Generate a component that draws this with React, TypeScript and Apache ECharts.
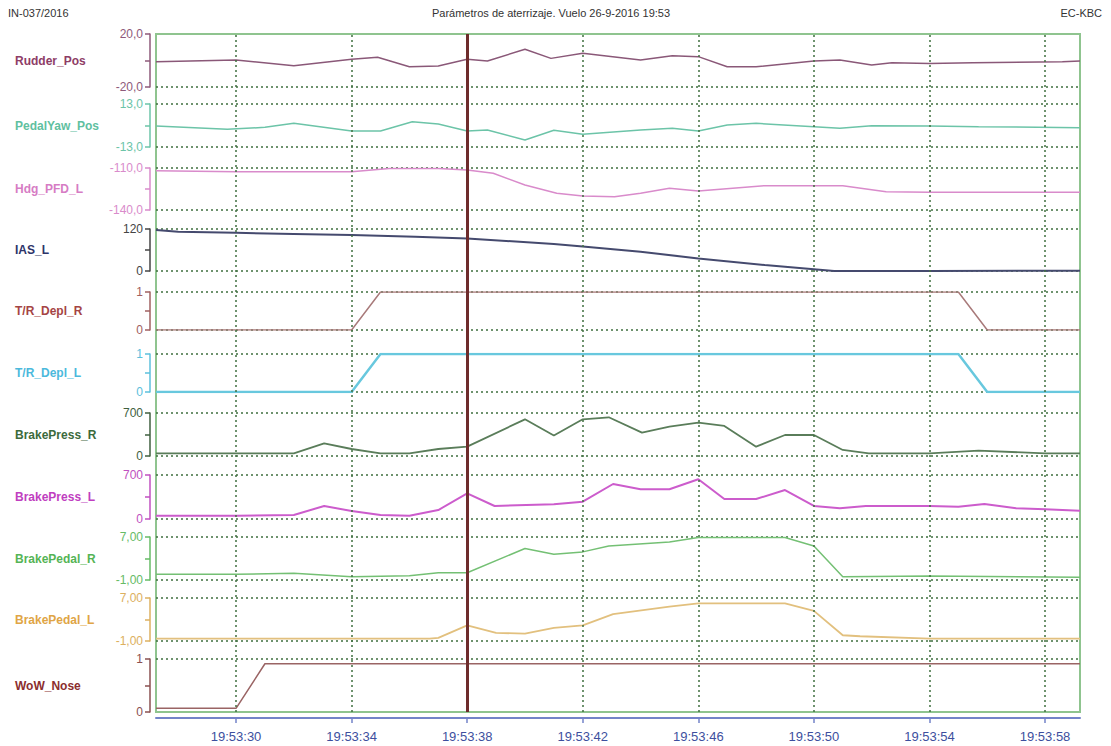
import React, { useEffect, useRef } from 'react';
import * as echarts from 'echarts';

// time in seconds after 19:53:00
const X_MIN = 27.23;
const X_MAX = 59.21;
const timeTicks = [30, 34, 38, 42, 46, 50, 54, 58];
const cursorTime = 38;

const rudderPos = [[27.23, -0.9], [30, 0.4], [32, -3.9], [34, 0.9], [34.9, 2.4], [36, -4.7], [37, -4.2], [38, 0.9], [38.7, -0.4], [40, 8.5], [40.9, 1.6], [42, 5.4], [44, 0.4], [45.1, 3.6], [46, 2.9], [47, -4.7], [48, -4.7], [50, -0.4], [50.9, 0.4], [52, -3.4], [52.7, -1.7], [54, -2.2], [55.5, -1.7], [58.6, -0.9], [59.21, -0.4]];
const pedalYawPos = [[27.23, -0.3], [29.7, -2.3], [31, -1.1], [32, 1.3], [34, -3.3], [35, -3.3], [36.1, 2.3], [37, 0.9], [38, -3.3], [38.7, -2.7], [40, -8.8], [41, -2.9], [42, -5.3], [44, -2.7], [45.1, -1.7], [46, -3.3], [47, 0.3], [48, 1.3], [50, -0.7], [50.9, -1.7], [52, -0.1], [54, -0.3], [55.7, -0.7], [59.21, -1.3]];
const hdgPfdL = [[27.23, -111.9], [30, -112.6], [34, -112.6], [35.3, -110.3], [37, -110.3], [38, -111.4], [38.9, -113.8], [40, -122.1], [41.1, -128.1], [42, -130], [43.1, -130.5], [44, -128], [45, -124.5], [46, -126.4], [48.3, -122.6], [51, -122.6], [52.5, -126.9], [54, -127.4], [59.21, -127.4]];
const iasL = [[27.23, 117], [28, 112], [30, 109], [32, 106], [34, 103], [36.2, 98], [38, 93], [41, 77], [42, 70], [44, 55], [46, 36], [48.3, 17], [50, 5], [50.7, 0], [54, 0], [59.21, 1]];
const trDeplR = [[27.23, 0], [34, 0], [35, 1], [55, 1], [56, 0], [59.21, 0]];
const trDeplL = [[27.23, 0], [34, 0], [35, 1], [55, 1], [56, 0], [59.21, 0]];
const brakePressR = [[27.23, 43], [32, 43], [33.05, 206], [34, 114], [35, 43], [36, 43], [37, 114], [38, 152], [40, 597], [41, 335], [42, 597], [42.9, 630], [44.05, 380], [45, 478], [46, 543], [46.9, 489], [48, 152], [49, 342], [50, 342], [51, 98], [51.9, 43], [54, 43], [55.7, 87], [58, 43], [59.21, 43]];
const brakePressL = [[27.23, 52], [30, 52], [32, 64], [33.05, 207], [34, 127], [35, 64], [36, 52], [37, 143], [38, 409], [38.95, 207], [41, 234], [42, 275], [43.05, 557], [44, 473], [45, 473], [46, 632], [46.9, 318], [48, 318], [49, 461], [50, 207], [50.9, 170], [51.8, 207], [54, 207], [55, 196], [55.9, 239], [57, 170], [58, 154], [59.21, 132]];
const brakePedalR = [[27.23, 0.05], [30, 0.05], [32, 0.24], [34, -0.39], [36, -0.2], [37, 0.35], [38, 0.35], [40, 4.86], [41, 3.8], [42, 4.23], [42.9, 5.34], [45, 6.08], [46, 6.9], [49, 6.9], [50, 5.34], [51, -0.39], [54, -0.26], [59.21, -0.5]];
const brakePedalL = [[27.23, -0.54], [36.7, -0.54], [37, -0.41], [38, 1.9], [39, 0.5], [40, 0.38], [41, 1.43], [42, 1.9], [43.05, 4.0], [45, 5.4], [46, 6.0], [49, 6.0], [50, 4.6], [51, 0.07], [51.6, -0.12], [54, -0.54], [59.21, -0.54]];
const wowNose = [[27.23, 0.07], [30, 0.07], [31, 0.91], [59.21, 0.91]];

const panelNames = ['Rudder_Pos', 'PedalYaw_Pos', 'Hdg_PFD_L', 'IAS_L', 'T/R_Depl_R', 'T/R_Depl_L', 'BrakePress_R', 'BrakePress_L', 'BrakePedal_R', 'BrakePedal_L', 'WoW_Nose'];
const panelData = [rudderPos, pedalYawPos, hdgPfdL, iasL, trDeplR, trDeplL, brakePressR, brakePressL, brakePedalR, brakePedalL, wowNose];
const panelMin = [-20, -13, -140, 0, 0, 0, 0, 0, -1, -1, 0];
const panelMax = [20, 13, -110, 120, 1, 1, 700, 700, 7, 7, 1];
const panelDecimals = [1, 1, 1, 0, 0, 0, 0, 0, 2, 2, 0];

// layout & style (kept separate from the data)
const panelTops = [34, 104, 168, 229, 292, 354, 413, 475, 537, 598, 659];
const panelBottoms = [87, 147, 210, 271, 330, 392, 456, 519, 580, 641, 712];
const lineColors = ['#8a5878', '#6cc4a8', '#d98bcb', '#454a6e', '#a87a7a', '#68c8de', '#5a7d5a', '#cc5ccc', '#74c074', '#e2c07e', '#9a6464'];
const labelColors = ['#8e3d66', '#5fc0a0', '#d67cc4', '#2e3469', '#a54444', '#4bb9dc', '#3c6a3c', '#c03ec0', '#55b455', '#e0a545', '#8b2e2e'];
const axisColors = ['#8e5a7a', '#6cc4a8', '#d98bcb', '#444444', '#a06060', '#5cc0dc', '#3f5f3f', '#c050c0', '#66bb66', '#dcb060', '#8a5050'];
const lineWidths = [1.5, 1.5, 1.5, 2, 1.5, 2.5, 1.8, 2, 1.5, 1.8, 1.5];

const FONT = "'Liberation Sans', Arial, sans-serif";

function fmt(v: number, d: number) {
  return v.toFixed(d).replace('.', ',');
}

export default function App() {
  const ref = useRef<HTMLDivElement>(null);
  useEffect(() => {
    const chart = echarts.init(ref.current!, null, { renderer: 'svg' });
    const LEFT = 156;
    const RIGHT = 31;
    const dotted = { color: '#3f6f3f', type: [2, 3] as any, width: 1.5 };

    const grids: any[] = [
      { left: LEFT, right: RIGHT, top: 34, bottom: 34, show: true, borderColor: '#8fc48f', borderWidth: 2, backgroundColor: 'transparent' },
    ];
    const xAxes: any[] = [
      {
        gridIndex: 0, type: 'value', min: X_MIN, max: X_MAX, position: 'bottom', offset: 6,
        axisLine: { show: true, onZero: false, lineStyle: { color: '#7383c9', width: 2 } },
        axisTick: { show: true, customValues: timeTicks, length: 5, lineStyle: { color: '#7383c9', width: 1.5 } },
        axisLabel: {
          customValues: timeTicks,
          formatter: (v: number) => '19:53:' + String(Math.round(v)).padStart(2, '0'),
          color: '#3d4f9e', fontSize: 13, margin: 12, fontFamily: FONT,
        },
        splitLine: { show: false },
      },
    ];
    const yAxes: any[] = [{ gridIndex: 0, type: 'value', min: 0, max: 1, show: false }];
    const series: any[] = [
      {
        type: 'line', xAxisIndex: 0, yAxisIndex: 0, data: [], silent: true, z: 1,
        markLine: {
          silent: true, animation: false, symbol: ['none', 'none'], label: { show: false },
          emphasis: { disabled: true }, lineStyle: dotted,
          data: timeTicks.map((t) => ({ xAxis: t })),
        },
      },
      {
        type: 'line', xAxisIndex: 0, yAxisIndex: 0, data: [], silent: true, z: 10,
        markLine: {
          silent: true, animation: false, symbol: ['none', 'none'], label: { show: false },
          emphasis: { disabled: true }, lineStyle: { color: '#6e2c2c', type: 'solid', width: 3 },
          data: [{ xAxis: cursorTime }],
        },
      },
    ];
    const graphics: any[] = [
      { type: 'text', x: 8, y: 13, style: { text: 'IN-037/2016', fill: '#333', font: `11px ${FONT}`, align: 'left', verticalAlign: 'middle' } },
      { type: 'text', x: 551, y: 13, style: { text: 'Parámetros de aterrizaje. Vuelo 26-9-2016 19:53', fill: '#333', font: `11px ${FONT}`, align: 'center', verticalAlign: 'middle' } },
      { type: 'text', x: 1102, y: 13, style: { text: 'EC-KBC', fill: '#333', font: `11px ${FONT}`, align: 'right', verticalAlign: 'middle' } },
    ];

    panelNames.forEach((name, i) => {
      const gi = i + 1;
      const min = panelMin[i];
      const max = panelMax[i];
      const mid = (min + max) / 2;
      const d = panelDecimals[i];
      grids.push({ left: LEFT, right: RIGHT, top: panelTops[i], height: panelBottoms[i] - panelTops[i] });
      xAxes.push({ gridIndex: gi, type: 'value', min: X_MIN, max: X_MAX, show: false });
      yAxes.push({
        gridIndex: gi, type: 'value', min, max, offset: 6,
        axisLine: { show: true, lineStyle: { color: axisColors[i], width: 1.5 } },
        axisTick: { show: true, customValues: [min, mid, max], length: 5, lineStyle: { color: axisColors[i], width: 1.5 } },
        axisLabel: { customValues: [min, max], formatter: (v: number) => fmt(v, d), color: axisColors[i], fontSize: 12, margin: 7, fontFamily: FONT },
        splitLine: { show: false },
      });
      const hLines: any[] = [];
      if (i !== 0) hLines.push({ yAxis: max });
      if (i !== panelNames.length - 1) hLines.push({ yAxis: min });
      series.push({
        type: 'line', name, xAxisIndex: gi, yAxisIndex: gi, data: panelData[i], symbol: 'none',
        silent: true, z: 3, lineStyle: { color: lineColors[i], width: lineWidths[i] },
        markLine: {
          silent: true, animation: false, symbol: ['none', 'none'], label: { show: false },
          emphasis: { disabled: true }, lineStyle: dotted, z: 1, data: hLines,
        },
      });
      graphics.push({
        type: 'text', x: 15, y: (panelTops[i] + panelBottoms[i]) / 2,
        style: { text: name, fill: labelColors[i], font: `bold 12px ${FONT}`, align: 'left', verticalAlign: 'middle' },
      });
    });

    chart.setOption({
      animation: false,
      backgroundColor: '#ffffff',
      grid: grids,
      xAxis: xAxes,
      yAxis: yAxes,
      series,
      graphic: graphics,
    });
    return () => chart.dispose();
  }, []);
  return <div ref={ref} style={{ position: 'fixed', left: 0, top: 0, width: 1111, height: 746 }} />;
}
